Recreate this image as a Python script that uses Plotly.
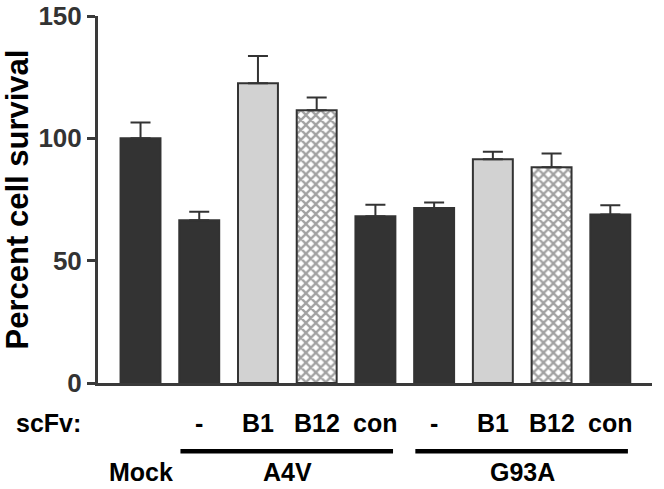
import plotly.graph_objects as go

# ---- data ----
categories = ["Mock", "A4V -", "A4V B1", "A4V B12", "A4V con",
              "G93A -", "G93A B1", "G93A B12", "G93A con"]
survival = [100, 66.5, 122.5, 111.5, 68.2, 71.5, 91.5, 88.2, 68.9]
sem = [6.5, 3.5, 11.2, 5.2, 4.7, 2.3, 3.0, 5.6, 3.7]
styles = ["solid", "solid", "gray", "hatch", "solid", "solid", "gray", "hatch", "solid"]
scfv_labels = ["", "-", "B1", "B12", "con", "-", "B1", "B12", "con"]
groups = [("Mock", [0]), ("A4V", [1, 2, 3, 4]), ("G93A", [5, 6, 7, 8])]
y_ticks = [0, 50, 100, 150]

DARK = "#333333"
AXIS = "#3a3a3a"
FONT = "Liberation Sans, Arial, sans-serif"

x = list(range(len(categories)))
fill_colors = [{"solid": DARK, "gray": "#d2d2d2", "hatch": "white"}[s] for s in styles]
shapes_pat = ["x" if s == "hatch" else "" for s in styles]

fig = go.Figure()
fig.add_trace(go.Bar(
    x=x, y=survival,
    marker=dict(color=fill_colors,
                line=dict(color=DARK, width=2),
                pattern=dict(shape=shapes_pat, fgcolor="#111111", bgcolor="white",
                             size=7, solidity=0.55)),
    error_y=dict(type="data", array=sem, arrayminus=[0] * len(sem),
                 symmetric=False, color=DARK, thickness=2, width=10),
    hovertext=categories,
    showlegend=False,
))

ROW1 = -0.109
ROW2 = -0.243
LINE_Y = -0.186
annotations = []
annotations.append(dict(x=-0.09, y=ROW1, xref="paper", yref="paper", text="<b>scFv:</b>",
                        showarrow=False, xanchor="center", yanchor="middle",
                        font=dict(size=25, color="black", family=FONT)))
for i, lab in enumerate(scfv_labels):
    if lab:
        annotations.append(dict(x=x[i], y=ROW1, xref="x", yref="paper", text=f"<b>{lab}</b>",
                                showarrow=False, xanchor="center", yanchor="middle",
                                font=dict(size=25, color="black", family=FONT)))
shapes = []
for name, idx in groups:
    cx = sum(x[i] for i in idx) / len(idx)
    annotations.append(dict(x=cx, y=ROW2, xref="x", yref="paper", text=f"<b>{name}</b>",
                            showarrow=False, xanchor="center", yanchor="middle",
                            font=dict(size=25, color="black", family=FONT)))
    if len(idx) > 1:
        shapes.append(dict(type="line", xref="x", yref="paper",
                           x0=x[idx[0]] - 0.32, x1=x[idx[-1]] + 0.3,
                           y0=LINE_Y, y1=LINE_Y, line=dict(color="black", width=4.5)))

fig.update_layout(
    width=664, height=489,
    margin=dict(l=98, r=12, t=16, b=106, autoexpand=False),
    paper_bgcolor="white", plot_bgcolor="white",
    bargap=0.32,
    font=dict(family=FONT, color="#333333"),
    xaxis=dict(range=[-0.724, 8.71], showticklabels=False, ticks="",
               showgrid=False, zeroline=False, showline=True, automargin=False,
               linecolor=AXIS, linewidth=3),
    yaxis=dict(range=[0, 150], tickvals=y_ticks, ticktext=[f"<b>{t}</b>" for t in y_ticks],
               ticks="outside", ticklen=8, tickwidth=3, tickcolor=AXIS, automargin=False,
               tickfont=dict(size=26, color="#333333", family=FONT),
               showgrid=False, zeroline=False, showline=True,
               linecolor=AXIS, linewidth=3,
               title=dict(text="<b>Percent cell survival</b>", standoff=8,
                          font=dict(size=31, color="black", family=FONT))),
    annotations=annotations,
    shapes=shapes,
)

fig.write_html("out.html", config={"displayModeBar": False},
               post_script="document.body.style.margin='0';document.body.style.padding='0';")
